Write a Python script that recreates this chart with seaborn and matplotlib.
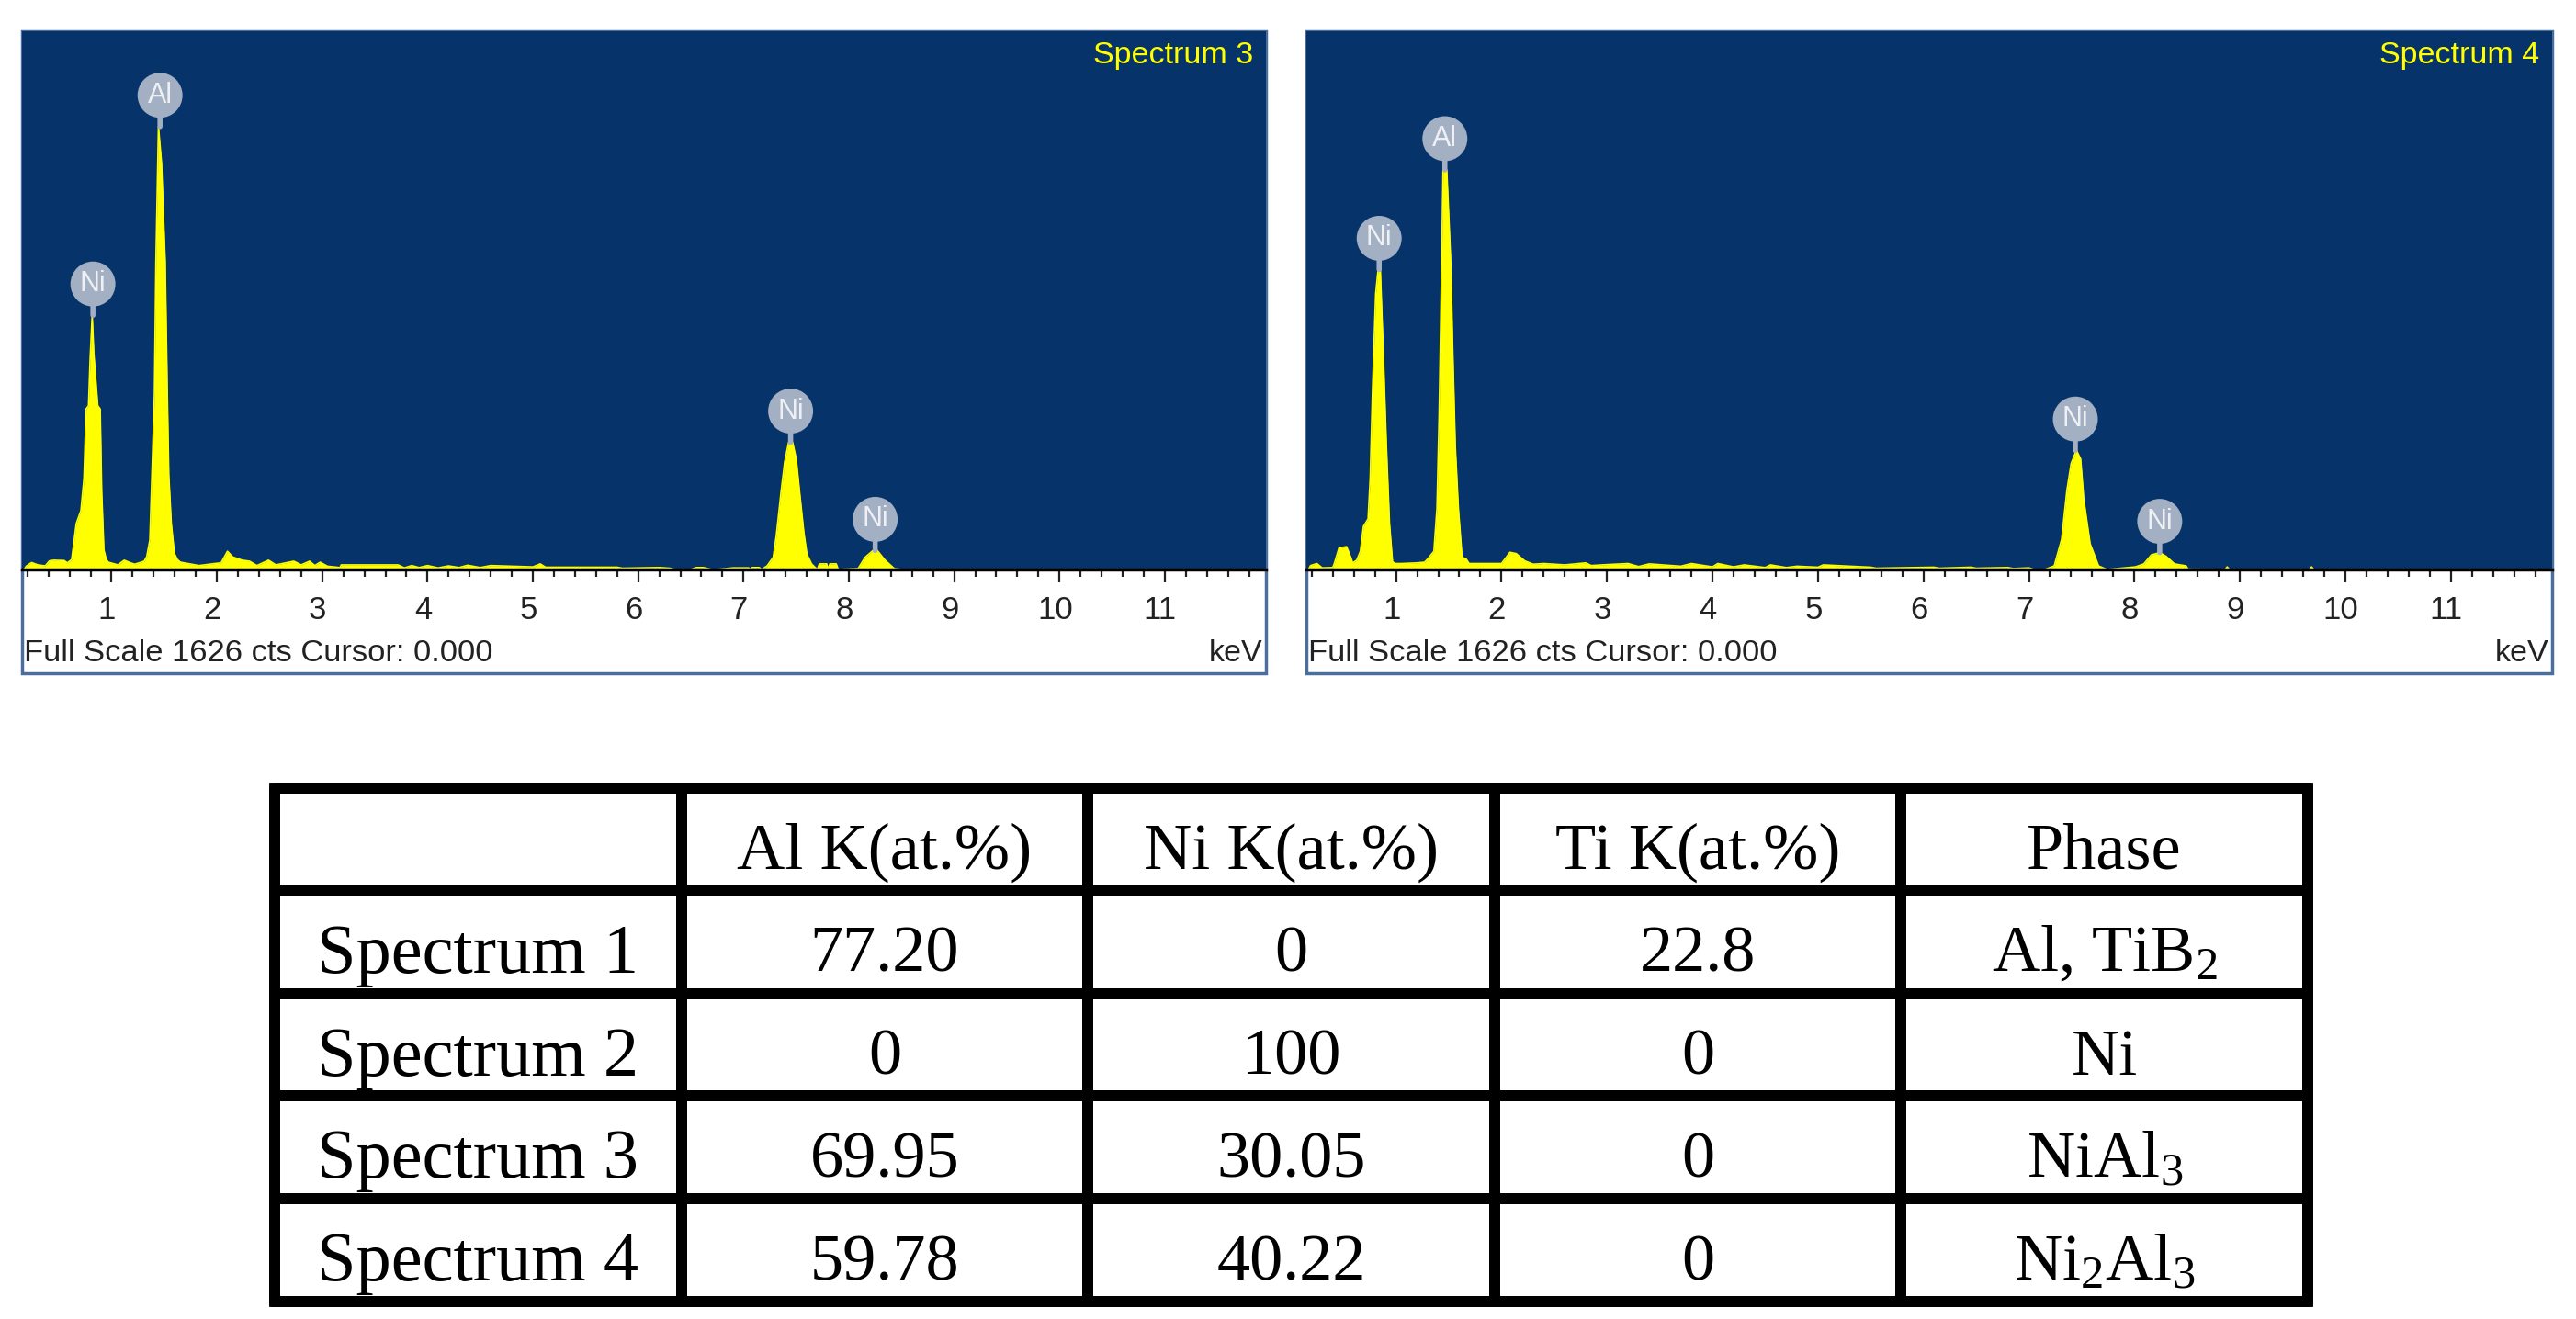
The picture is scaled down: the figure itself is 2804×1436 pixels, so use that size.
import numpy as np
import matplotlib
matplotlib.use("Agg")
import matplotlib.pyplot as plt
from matplotlib.colors import ListedColormap
from matplotlib.patches import Rectangle
from matplotlib.ticker import MultipleLocator
from matplotlib.transforms import ScaledTranslation
import seaborn as sns

W, H = 2804, 1436

# spectrum values (keV, counts)
spec3_kev = [0.17, 0.19, 0.24, 0.30, 0.37, 0.41, 0.45, 0.55, 0.58,
             0.621, 0.665, 0.709, 0.738, 0.758, 0.781, 0.796, 0.816, 0.831, 0.869, 0.892, 0.906, 0.927, 0.950, 0.970,
             1.06, 1.12, 1.18, 1.22, 1.31,
             1.334, 1.363, 1.383, 1.407, 1.421, 1.445, 1.474, 1.509, 1.529, 1.543, 1.567, 1.596, 1.625, 1.654,
             1.83, 1.98, 2.04, 2.10, 2.15, 2.24, 2.31, 2.38, 2.49, 2.56, 2.73, 2.80, 2.88, 2.93, 2.98,
             3.05, 3.17, 3.18, 3.72, 3.78, 3.85, 3.92, 4.0, 4.1, 4.2, 4.3, 4.38, 4.5, 4.6, 5.0, 5.07, 5.12,
             5.8, 5.85, 6.2, 6.3, 6.35, 6.5, 6.55, 6.62, 6.7, 6.74, 6.9, 6.95, 7.05, 7.06, 7.08, 7.15, 7.17,
             7.224, 7.282, 7.311, 7.355, 7.390, 7.428, 7.466, 7.501, 7.530, 7.573, 7.602, 7.646,
             7.70, 7.72, 7.79, 7.80, 7.82, 7.88, 7.90,
             8.088, 8.155, 8.228, 8.271, 8.344, 8.431, 8.5]
spec3_cts = [0, 10, 21, 14, 11, 26, 28, 27, 20,
             30, 139, 178, 277, 485, 495, 634, 768, 654, 495, 485, 238, 59, 30, 22,
             14, 28, 20, 16, 25,
             39, 89, 287, 535, 931, 1338, 1229, 931, 535, 287, 139, 49, 30, 22,
             12, 18, 20, 55, 38, 28, 25, 12, 28, 14, 25, 14, 25, 12, 22,
             10, 6, 14, 14, 5, 12, 6, 12, 5, 11, 6, 13, 6, 12, 8, 17, 7,
             7, 4, 6, 4, 0, 0, 6, 6, 0, 0, 5, 5, 5, 0, 6, 6, 0,
             11, 37, 102, 231, 324, 384, 384, 333, 241, 111, 46, 17,
             0, 17, 17, 0, 17, 17, 0,
             3, 37, 57, 57, 28, 3, 0]

spec4_kev = [0.17, 0.19, 0.25, 0.30, 0.40,
             0.415, 0.459, 0.531, 0.560, 0.589, 0.627,
             0.662, 0.691, 0.735, 0.755, 0.778, 0.807, 0.830, 0.851, 0.880, 0.909, 0.938, 0.967, 0.996,
             1.05, 1.20, 1.27,
             1.301, 1.359, 1.388, 1.408, 1.423, 1.446, 1.481, 1.519, 1.539, 1.562, 1.591, 1.626, 1.664, 1.693,
             1.97, 2.0, 2.08, 2.14, 2.22, 2.3, 2.4, 2.6, 2.8, 2.85, 2.95,
             3.2, 3.3, 3.4, 3.7, 3.8, 4.0, 4.05, 4.2, 4.3, 4.5, 4.55, 4.7, 4.8, 5.0, 5.05,
             5.5, 5.55, 6.1, 6.15, 6.45, 6.5, 6.8, 6.85, 7.0, 7.05, 7.15,
             7.24, 7.31, 7.36, 7.40, 7.45, 7.49, 7.52, 7.58, 7.66, 7.74,
             8.01, 8.09, 8.16, 8.24, 8.30, 8.38, 8.49, 8.51,
             8.86, 8.88, 8.90, 9.66, 9.68, 9.70]
spec4_cts = [0, 12, 18, 5, 6,
             18, 65, 69, 46, 20, 28,
             55, 130, 153, 277, 555, 832, 906, 906, 647, 370, 139, 23, 18,
             18, 20, 22,
             32, 55, 185, 462, 740, 1207, 1207, 925, 647, 370, 185, 37, 32, 18,
             18, 18, 52, 48, 26, 16, 18, 14, 20, 12, 14,
             18, 9, 17, 10, 18, 8, 18, 8, 14, 6, 14, 6, 10, 7, 14,
             7, 4, 7, 4, 7, 4, 6, 3, 5, 0, 0,
             11, 91, 239, 320, 360, 334, 212, 78, 11, 0,
             8, 17, 44, 51, 40, 17, 11, 1,
             0, 8, 0, 0, 8, 0]

# element markers: label, peak energy, peak counts
peak_labels = ["Ni", "Al", "Ni", "Ni"]
spec3_peak_kev = [0.823, 1.46, 7.447, 8.25]
spec3_peak_cts = [768, 1338, 384, 57]
spec4_peak_kev = [0.84, 1.463, 7.44, 8.24]
spec4_peak_cts = [906, 1207, 360, 51]

# table
col_names = ["", "Al K(at.%)", "Ni K(at.%)", "Ti K(at.%)", "Phase"]
row_names = ["Spectrum 1", "Spectrum 2", "Spectrum 3", "Spectrum 4"]
al_k = ["77.20", "0", "69.95", "59.78"]
ni_k = ["0", "100", "30.05", "40.22"]
ti_k = ["22.8", "0", "0", "0"]
phases = [r"Al, TiB$\mathregular{_2}$", "Ni", r"NiAl$\mathregular{_3}$",
          r"Ni$\mathregular{_2}$Al$\mathregular{_3}$"]

NAVY = "#06346A"
YELLOW = "#FFFF00"
FRAME = "#4A6F9E"
BADGE = "#A3AFC2"
SANS = "Liberation Sans"
SERIF = "Liberation Serif"

sns.set_theme(style="white")
plt.rcParams["font.family"] = [SANS, "DejaVu Sans"]
plt.rcParams["mathtext.default"] = "regular"


def box(left, top, right, bottom):
    return [left / W, 1 - bottom / H, (right - left) / W, (bottom - top) / H]


def draw_spectrum(fig, left, right, kev, cts, peak_kev, peak_cts, title):
    top, base, bottom = 34, 620, 733
    # white strip with the thin blue frame, behind the plot area
    fig.add_artist(Rectangle((left / W, 1 - bottom / H), (right - left) / W, (bottom - top) / H,
                             transform=fig.transFigure, facecolor="white", edgecolor=FRAME, lw=2.5,
                             zorder=-1))
    ax = fig.add_axes(box(left, top, right, base))
    ax.set_facecolor(NAVY)
    ax.fill_between(kev, cts, 0, color=YELLOW, lw=0)
    sns.lineplot(x=kev, y=cts, ax=ax, color=YELLOW, lw=1.2, sort=False, errorbar=None)
    ax.set_xlim(0.15, 11.96)
    ax.set_ylim(0, 1626)
    ax.set_yticks([])
    ax.set_xticks(range(1, 12))
    ax.xaxis.set_minor_locator(MultipleLocator(0.2))
    ax.tick_params(axis="x", which="major", bottom=True, length=10, width=1.6, color="#222222",
                   labelsize=25, labelcolor="#222222", pad=10)
    ax.tick_params(axis="x", which="minor", bottom=True, length=6, width=1.6, color="#222222")
    shift = ScaledTranslation(-5 / 100, 0, fig.dpi_scale_trans)
    for label in ax.get_xticklabels():
        label.set_transform(label.get_transform() + shift)
    for side in ["top", "left", "right"]:
        ax.spines[side].set_visible(False)
    ax.spines["bottom"].set_color("black")
    ax.spines["bottom"].set_linewidth(2.5)

    for name, x, y in zip(peak_labels, peak_kev, peak_cts):
        ax.annotate(name, xy=(x, y), xytext=(0, 24.5), textcoords="offset points",
                    ha="center", va="center", color="#EEF0F4", fontsize=22,
                    bbox=dict(boxstyle="circle,pad=0.31", fc=BADGE, ec="none"),
                    arrowprops=dict(arrowstyle="-", color=BADGE, lw=4, shrinkA=0, shrinkB=0))

    fig.text((right - 14) / W, 1 - 61 / H, title, color=YELLOW, fontsize=24.5, ha="right", va="center")
    fig.text((left + 2) / W, 1 - 711 / H, "Full Scale 1626 cts Cursor: 0.000", color="#222222",
             fontsize=24.8, ha="left", va="center")
    fig.text((right - 4) / W, 1 - 711 / H, "keV", color="#222222", fontsize=24.5, ha="right", va="center")
    return ax


fig = plt.figure(figsize=(W / 100, H / 100), dpi=100, facecolor="white")

draw_spectrum(fig, 24, 1378, spec3_kev, spec3_cts, spec3_peak_kev, spec3_peak_cts, "Spectrum 3")
draw_spectrum(fig, 1422, 2778, spec4_kev, spec4_cts, spec4_peak_kev, spec4_peak_cts, "Spectrum 4")

# table drawn as a heatmap so that the grid and the cell texts come from seaborn
labels = np.array([col_names] + [list(r) for r in zip(row_names, al_k, ni_k, ti_k, phases)])
tax = fig.add_axes(box(299, 858, 2512, 1417))
sns.heatmap(np.zeros(labels.shape), annot=labels, fmt="", cmap=ListedColormap(["white"]), cbar=False,
            linewidths=8.3, linecolor="black", xticklabels=False, yticklabels=False,
            annot_kws=dict(fontsize=52, color="black", family=SERIF), ax=tax)
tax.collections[0].set_clip_on(False)
for spine in tax.spines.values():
    spine.set_visible(True)
    spine.set_color("black")
    spine.set_linewidth(8.3)

for i, txt in enumerate(tax.texts):
    row, col = np.unravel_index(i, labels.shape)
    x, y = txt.get_position()
    if col == 0:
        x = 0.105
        txt.set_ha("left")
        txt.set_fontsize(55)
    txt.set_position((x, y + 0.13))

fig.savefig("out.png", dpi=100, facecolor="white")
